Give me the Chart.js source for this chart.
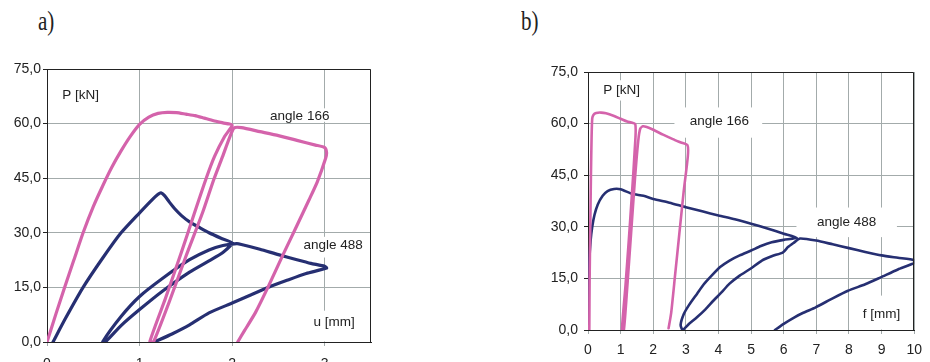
<!DOCTYPE html>
<html><head><meta charset="utf-8">
<script src="https://cdn.jsdelivr.net/npm/chart.js@4.4.1/dist/chart.umd.min.js"></script>
<style>
html,body{margin:0;padding:0;background:#fff;overflow:hidden;}
#root{position:relative;width:930px;height:362px;overflow:hidden;background:#fff;}
.wrap{position:absolute;}
.lab{position:absolute;font-family:"Liberation Serif","DejaVu Serif",serif;font-size:27px;line-height:26px;color:#222;transform:scaleX(0.78);transform-origin:0 0;white-space:nowrap;}
</style></head><body>
<div id="root">
<div class="lab" style="left:38px;top:8px">a)</div>
<div class="lab" style="left:521px;top:8px">b)</div>
<div class="wrap" style="left:0;top:0;width:385px;height:385px"><canvas id="ca" width="385" height="385"></canvas></div>
<div class="wrap" style="left:500px;top:0;width:430px;height:362px"><canvas id="cb" width="430" height="362"></canvas></div>
</div>
<script>
// ---------- tick labels ----------
const pTicks = [0, 15, 30, 45, 60, 75];
const uTicks = [0, 1, 2, 3];
const fTicks = [0, 1, 2, 3, 4, 5, 6, 7, 8, 9, 10];

// ---------- panel a) : P [kN] vs u [mm] ----------
const aAngle166U = [0,0.1,0.19,0.29,0.39,0.5,0.6,0.7,0.8,0.9,1.0,1.1,1.2,1.3,1.4,1.5,1.6,1.7,1.8,1.9,2.0,
  1.92,1.81,1.72,1.6,1.45,1.28,1.11,
  1.15,1.32,1.5,1.68,1.8,1.89,1.97,2.02,
  2.1,2.3,2.5,2.7,2.9,3.0,3.02,3.01,
  2.92,2.83,2.7,2.55,2.39,2.25,2.13,2.06];
const aAngle166P = [0,8,15,22.5,30,37.2,42.8,48,52.5,56.5,59.8,61.8,62.8,63.1,63.0,62.6,62.2,61.5,60.8,60.2,59.6,
  56.5,51,45,36,24.5,12,0,
  0,11,23.5,35.5,44.5,50.5,56,58.8,
  58.9,57.8,56.7,55.4,54.1,53.4,52,50.5,
  44,39,32,24,15.2,8,3,0];

const aAngle488U = [0.065,0.2,0.39,0.6,0.8,1.0,1.14,1.2,1.23,1.27,1.32,1.38,1.45,1.54,1.65,1.75,1.88,2.0,
  1.9,1.75,1.54,1.25,1.0,0.8,0.63,
  0.6,0.8,1.0,1.25,1.54,1.75,1.9,2.05,
  2.1,2.3,2.5,2.7,2.85,3.0,3.02,
  2.8,2.6,2.4,2.2,2.0,1.75,1.54,1.35,1.16];
const aAngle488P = [0,6.5,15,23,30,35.5,39.2,40.6,41,40.2,38.5,36.6,34.8,33,31.4,30,28.5,27.2,
  24.6,22.3,19.2,14,8.9,4.5,0,
  0,7,12.5,17.5,22.6,25.3,26.5,27,
  26.8,25.5,24,22.6,21.6,20.8,20.3,
  18.8,17,15.1,12.9,10.7,8,4.7,2.2,0];

// ---------- panel b) : P [kN] vs f [mm] ----------
const bAngle166F = [0.04,0.05,0.07,0.09,0.11,0.13,0.17,0.25,0.4,0.55,0.8,1.0,1.2,1.45,
  1.43,1.35,1.25,1.15,1.04,
  1.1,1.2,1.32,1.44,1.54,1.6,1.68,1.8,2.0,2.3,2.6,2.85,3.05,
  3.06,2.93,2.8,2.67,2.55,2.47];
const bAngle166P = [0,15,30,45,56,61.5,62.6,63.1,63.2,63.0,62.2,61.4,60.6,59.8,
  52,40,26,13,0,
  0,12,28,44,55,58.5,59.2,59.0,58.2,56.8,55.5,54.5,53.7,
  50.5,40,28,16,5,0.5];

const bAngle488F = [0,0.01,0.04,0.08,0.13,0.2,0.3,0.45,0.6,0.8,1.0,1.35,1.7,2.0,2.5,3.0,3.5,4.0,4.5,5.0,5.5,6.0,6.4,
  6.0,5.63,5.3,5.0,4.65,4.34,4.05,3.79,3.55,3.34,3.1,2.94,2.84,2.9,
  3.1,3.34,3.6,3.84,4.1,4.33,4.65,4.98,5.33,5.65,5.98,6.13,6.3,6.5,
  7.0,7.5,8.0,8.5,9.0,9.5,10.0,10.0,
  9.5,8.97,8.5,7.97,7.5,6.98,6.6,6.33,6.0,5.73];
const bAngle488P = [0,10,20,26,30,33.5,36.5,39,40.4,41,40.9,39.6,39,38.1,37,35.7,34.5,33.3,32.2,30.9,29.5,28,26.8,
  26.2,25.5,24.4,23.1,21.7,20.2,18.3,15.8,13.3,10.5,7.3,4.7,1.5,0,
  1.8,3.7,6,8.5,11,13.4,15.8,17.8,20.2,21.5,22.6,24.1,25.3,26.6,
  26.0,24.9,23.8,22.7,21.7,21.0,20.3,19.5,
  17.6,15.3,13.3,11.4,9.2,6.6,5,3.7,1.8,0];

const PINK = '#d463ab';
const BLUE = '#262f72';
const GRID = '#a3abab';
const INK = '#222';

function pts(xs, ys){ return xs.map((x,i)=>({x:x, y:ys[i]})); }
const fmtP = v => Number(v).toFixed(1).replace('.', ',');

function panelPlugin(labels, boxes){
  return {
    id: 'panelText',
    beforeDatasetsDraw(chart){
      const ctx = chart.ctx, xs = chart.scales.x, ys = chart.scales.y;
      ctx.save();
      ctx.fillStyle = '#fff';
      boxes.forEach(b=>{
        const x0 = xs.getPixelForValue(b[0]), x1 = xs.getPixelForValue(b[2]);
        const y0 = ys.getPixelForValue(b[1]), y1 = ys.getPixelForValue(b[3]);
        ctx.fillRect(Math.min(x0,x1), Math.min(y0,y1), Math.abs(x1-x0), Math.abs(y1-y0));
      });
      ctx.fillStyle = INK;
      ctx.font = '13.5px "Liberation Sans", Arial, sans-serif';
      ctx.textBaseline = 'middle';
      ctx.textAlign = 'left';
      labels.forEach(l=>ctx.fillText(l.text, xs.getPixelForValue(l.x), ys.getPixelForValue(l.y)));
      ctx.restore();
    },
    afterDatasetsDraw(chart){
      const ctx = chart.ctx, a = chart.chartArea;
      ctx.save();
      ctx.strokeStyle = INK; ctx.lineWidth = 1;
      const t = Math.round(a.top) + 0.5, r = Math.round(a.right) - 0.5;
      ctx.beginPath();
      ctx.moveTo(a.left, t); ctx.lineTo(r, t); ctx.lineTo(r, a.bottom);
      ctx.stroke();
      ctx.restore();
    }
  };
}

function makeChart(id, cfg){
  return new Chart(document.getElementById(id), {
    type: 'scatter',
    data: { datasets: cfg.series.map(s=>({
      data: pts(s.x, s.y), showLine: true, borderColor: s.color, backgroundColor: s.color,
      borderWidth: cfg.lw, pointRadius: 0, tension: 0.2, fill: false,
      borderJoinStyle: 'round', borderCapStyle: 'round'
    })) },
    options: {
      responsive: false, animation: false, devicePixelRatio: 1,
      layout: { padding: cfg.pad },
      plugins: { legend: {display:false}, tooltip: {enabled:false} },
      scales: {
        x: {
          type: 'linear', min: 0, max: cfg.xmax,
          afterBuildTicks: s => { s.ticks = cfg.xticks.map(v=>({value:v})); },
          afterFit: s => { s.height = cfg.xh; },
          grid: { color: GRID, lineWidth: 1, tickLength: 4, tickColor: GRID, drawTicks: true },
          border: { display: true, color: INK, width: 1 },
          ticks: { color: INK, padding: cfg.xpad, maxRotation: 0, autoSkip: false,
                   font: { family: '"Liberation Sans", Arial, sans-serif', size: 14 },
                   callback: v => String(v) }
        },
        y: {
          type: 'linear', min: 0, max: 75,
          afterBuildTicks: s => { s.ticks = pTicks.map(v=>({value:v})); },
          afterFit: s => { s.width = cfg.yw; },
          grid: { color: GRID, lineWidth: 1, tickLength: 4, tickColor: INK },
          border: { display: true, color: INK, width: 1 },
          ticks: { color: INK, padding: cfg.ypad,
                   font: { family: '"Liberation Sans", Arial, sans-serif', size: 14 },
                   callback: v => fmtP(v) }
        }
      }
    },
    plugins: [panelPlugin(cfg.labels, cfg.boxes)]
  });
}

makeChart('ca', {
  series: [ {x:aAngle166U, y:aAngle166P, color:PINK}, {x:aAngle488U, y:aAngle488P, color:BLUE} ],
  lw: 3.2, xmax: 3.5, xticks: uTicks,
  pad: { left: 0, top: 69, right: 14, bottom: 0 }, xh: 43, yw: 47, xpad: 10, ypad: 2,
  labels: [
    {text:'P [kN]', x:0.166, y:67.8},
    {text:'angle 166', x:2.41, y:61.9},
    {text:'angle 488', x:2.77, y:26.7},
    {text:'u [mm]', x:2.88, y:5.4}
  ],
  boxes: [
    [0.12, 70.5, 0.6, 65.3],
    [2.38, 64.2, 3.09, 60.5],
    [2.72, 28.9, 3.44, 23.2],
    [2.70, 8.6, 3.5, 0.15]
  ]
});

makeChart('cb', {
  series: [ {x:bAngle166F, y:bAngle166P, color:PINK}, {x:bAngle488F, y:bAngle488P, color:BLUE} ],
  lw: 2.6, xmax: 10, xticks: fTicks,
  pad: { left: 0, top: 72, right: 8, bottom: 0 }, xh: 32, yw: 88, xpad: 8, ypad: 6,
  labels: [
    {text:'P [kN]', x:0.47, y:69.7},
    {text:'angle 166', x:3.12, y:60.7},
    {text:'angle 488', x:7.02, y:31.3},
    {text:'f [mm]', x:8.42, y:4.7}
  ],
  boxes: [
    [0.35, 72.6, 1.6, 66.7],
    [2.65, 64.7, 5.34, 55.9],
    [6.39, 35.6, 9.47, 27.0],
    [8.05, 10.0, 9.98, 0.15]
  ]
});
</script>
</body></html>
